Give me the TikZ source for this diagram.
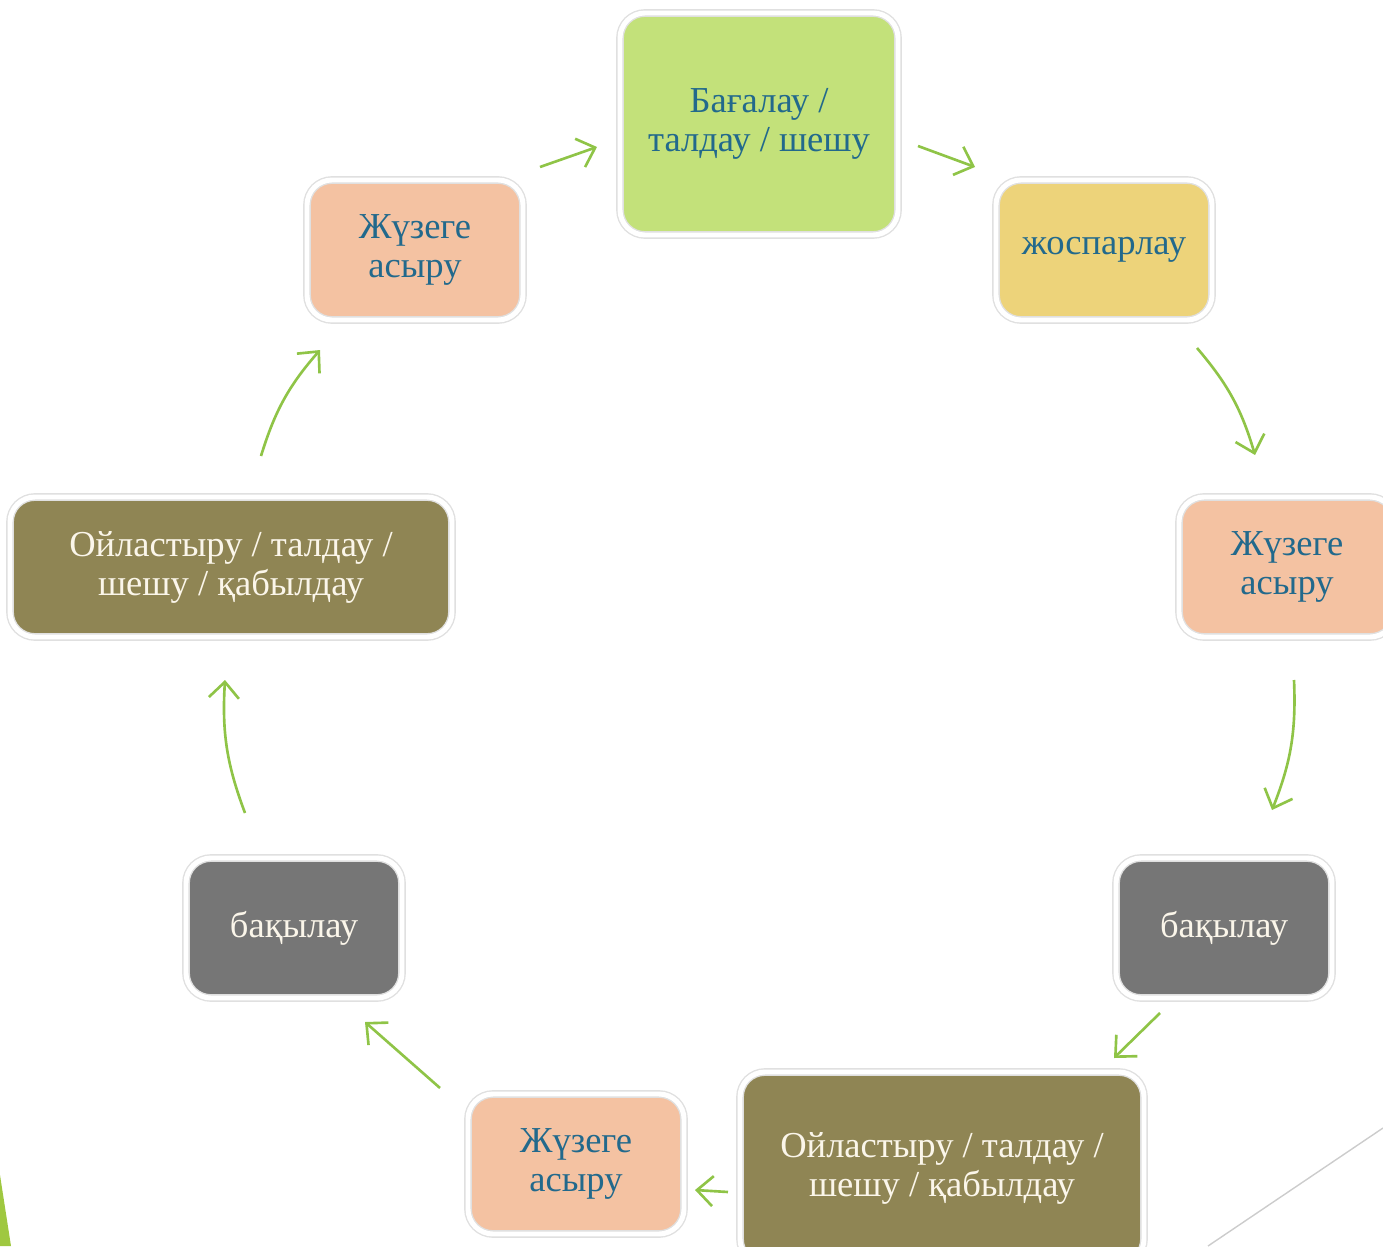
\documentclass[tikz,border=0pt]{standalone}
\usepackage{fontspec}
\setmainfont{Liberation Serif}
\usetikzlibrary{arrows.meta}
\definecolor{leaf}{HTML}{C3E17A}
\definecolor{sand}{HTML}{EDD37A}
\definecolor{peach}{HTML}{F4C2A2}
\definecolor{slate}{HTML}{767676}
\definecolor{olive}{HTML}{8F8554}
\definecolor{inkblue}{HTML}{22698C}
\definecolor{cream}{HTML}{FBF6EA}
\definecolor{arrowgreen}{HTML}{8FC447}
\definecolor{cornergreen}{HTML}{9FC840}
\begin{document}
\begin{tikzpicture}[
    box/.style={rounded corners=0.25cm, minimum width=2.16cm, minimum height=1.40cm,
      inner sep=0pt, draw=black!12, double=white, double distance=1.4pt,
      align=center, text=inkblue, font=\fontsize{10.4}{11.1}\selectfont},
    dark/.style={text=cream},
    flow/.style={draw=arrowgreen, line width=0.75pt, -{Straight Barb[length=1.6mm,width=3mm]}}]
  \useasboundingbox (0,0) rectangle (13.83,12.46);
  \clip (0,0) rectangle (13.83,12.46);
  % corner decoration
  \fill[cornergreen] (0,0.71) -- (0.11,0) -- (0,0) -- cycle;
  \draw[black!20, line width=0.4pt] (12.08,0) -- (13.83,1.18);
  \draw
    (7.59,11.22) node[box, fill=leaf, minimum width=2.78cm, minimum height=2.22cm] (0){Бағалау /\\талдау / шешу}
    (11.04,9.96) node[box, fill=sand] (1){жоспарлау}
    (12.87,6.79) node[box, fill=peach] (2){Жүзеге\\асыру}
    (12.24,3.18) node[box, fill=slate, dark] (3){бақылау}
    (9.42,0.78) node[box, fill=olive, dark, minimum width=4.04cm, minimum height=1.92cm] (4){Ойластыру / талдау /\\шешу / қабылдау}
    (5.76,0.82) node[box, fill=peach] (5){Жүзеге\\асыру}
    (2.94,3.18) node[box, fill=slate, dark] (6){бақылау}
    (2.31,6.79) node[box, fill=olive, dark, minimum width=4.42cm] (7){Ойластыру / талдау /\\шешу / қабылдау}
    (4.15,9.96) node[box, fill=peach] (8){Жүзеге\\асыру};
  \path
    (5.40,10.79) coordinate (s8) (5.97,10.99) coordinate (t8)
    (9.18,11.00) coordinate (s0) (9.75,10.79) coordinate (t0)
    (11.97,8.98) coordinate (s1) (12.55,7.91) coordinate (t1)
    (12.94,5.66) coordinate (s2) (12.72,4.36) coordinate (t2)
    (11.60,2.33) coordinate (s3) (11.14,1.88) coordinate (t3)
    (7.28,0.54) coordinate (s4) (6.95,0.56) coordinate (t4)
    (4.40,1.58) coordinate (s5) (3.65,2.24) coordinate (t5)
    (2.45,4.33) coordinate (s6) (2.25,5.66) coordinate (t6)
    (2.61,7.90) coordinate (s7) (3.20,8.96) coordinate (t7);
  \begin{scope}[flow]
    \draw (s8) to (t8);
    \draw (s0) to (t0);
    \draw (s1) to[bend left=12] (t1);
    \draw (s2) to[bend left=12] (t2);
    \draw (s3) to (t3);
    \draw (s4) to (t4);
    \draw (s5) to (t5);
    \draw (s6) to[bend left=12] (t6);
    \draw (s7) to[bend left=12] (t7);
  \end{scope}
\end{tikzpicture}
\end{document}
